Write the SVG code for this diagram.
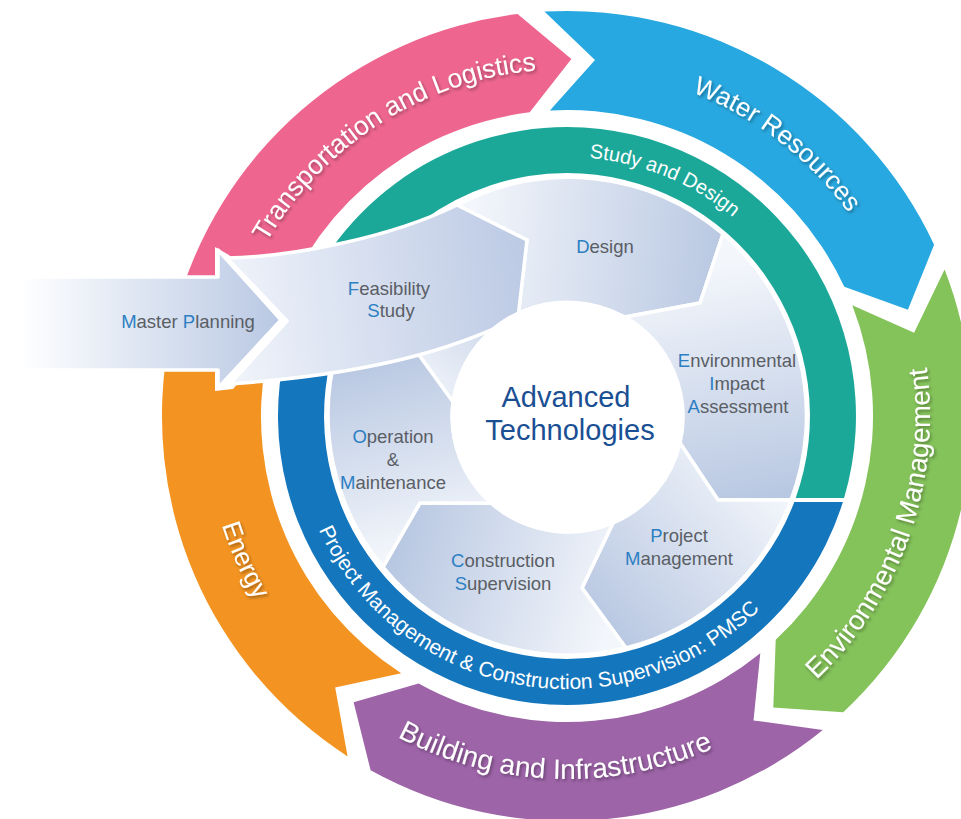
<svg xmlns="http://www.w3.org/2000/svg" width="961" height="819" viewBox="0 0 961 819">
<style>
.rl{font-family:"Liberation Sans",Arial,sans-serif;fill:#fff}
.lbl{font-family:"Liberation Sans",Arial,sans-serif;font-size:18.5px;fill:#5a5e65;text-anchor:middle}
.ini{fill:#2c7fc3}
.ctr{font-family:"Liberation Sans",Arial,sans-serif;font-size:29px;fill:#1b4f94;text-anchor:middle}
.pc{stroke:#fff;stroke-width:3.5;stroke-linejoin:round}
</style>
<defs>
<filter id="sh" x="-10%" y="-10%" width="120%" height="120%"><feDropShadow dx="1.5" dy="2" stdDeviation="1.5" flood-color="#000" flood-opacity="0.35"/></filter>
<linearGradient id="gArrow" gradientUnits="userSpaceOnUse" x1="20" y1="0" x2="281" y2="0"><stop offset="0" stop-color="#ffffff"/><stop offset="0.4" stop-color="#e2e9f4"/><stop offset="1" stop-color="#b9c8e3"/></linearGradient>
<linearGradient id="gBand" gradientUnits="userSpaceOnUse" x1="227" y1="300" x2="527" y2="260"><stop offset="0" stop-color="#eff3fa"/><stop offset="0.55" stop-color="#d3dcee"/><stop offset="1" stop-color="#bccae4"/></linearGradient>
<linearGradient id="gDesign" gradientUnits="userSpaceOnUse" x1="470" y1="240" x2="720" y2="265"><stop offset="0" stop-color="#f3f6fb"/><stop offset="1" stop-color="#b9c8e2"/></linearGradient>
<linearGradient id="gEia" gradientUnits="userSpaceOnUse" x1="700" y1="270" x2="745" y2="500"><stop offset="0" stop-color="#f3f6fb"/><stop offset="1" stop-color="#b9c8e2"/></linearGradient>
<linearGradient id="gPm" gradientUnits="userSpaceOnUse" x1="765" y1="470" x2="600" y2="620"><stop offset="0" stop-color="#f3f6fb"/><stop offset="1" stop-color="#b9c8e2"/></linearGradient>
<linearGradient id="gCon" gradientUnits="userSpaceOnUse" x1="615" y1="600" x2="400" y2="540"><stop offset="0" stop-color="#f3f6fb"/><stop offset="1" stop-color="#b9c8e2"/></linearGradient>
<linearGradient id="gOm" gradientUnits="userSpaceOnUse" x1="430" y1="545" x2="380" y2="360"><stop offset="0" stop-color="#f3f6fb"/><stop offset="1" stop-color="#b9c8e2"/></linearGradient>
<linearGradient id="gFeas" gradientUnits="userSpaceOnUse" x1="400" y1="380" x2="520" y2="260"><stop offset="0" stop-color="#f3f6fb"/><stop offset="1" stop-color="#b9c8e2"/></linearGradient>
<path id="cw347" d="M220,416 A347,347 0 1 1 914,416 A347,347 0 1 1 220,416"/>
<path id="cw259" d="M308,416 A259,259 0 1 1 826,416 A259,259 0 1 1 308,416"/>
<path id="ccw363" d="M204,416 A363,363 0 1 0 930,416 A363,363 0 1 0 204,416"/>
<path id="ccw362" d="M205,416 A362,362 0 1 0 929,416 A362,362 0 1 0 205,416"/>
<path id="ccw273" d="M294,416 A273,273 0 1 0 840,416 A273,273 0 1 0 294,416"/>
</defs>

<g id="transportation">
<path fill="#ee6690" d="M175.4,312.5 A405,405 0 0 1 517.6,14.0 L571.4,59.0 L529.7,112.3 A306,306 0 0 0 271.2,337.8 L237.2,279.4 Z"/>
<text class="rl" font-size="26.5" text-anchor="middle" filter="url(#sh)"><textPath href="#cw347" startOffset="348">Transportation and Logistics</textPath></text>
</g>
<g id="water">
<path fill="#28a8e0" d="M544.4,11.6 A405,405 0 0 1 934.1,244.8 L907.9,309.8 L844.3,286.7 A306,306 0 0 0 549.9,110.5 L595.0,60.1 Z"/>
<text class="rl" font-size="26" text-anchor="middle" filter="url(#sh)"><textPath href="#cw347" startOffset="773">Water Resources</textPath></text>
</g>
<g id="environment">
<path fill="#84c25a" d="M944.6,269.5 A405,405 0 0 1 843.2,712.2 L773.3,707.4 L775.7,639.8 A306,306 0 0 0 852.3,305.3 L914.1,332.7 Z"/>
<text class="rl" font-size="27.5" text-anchor="middle" filter="url(#sh)"><textPath href="#ccw363" startOffset="1017">Environmental Management</textPath></text>
</g>
<g id="building">
<path fill="#9d64a8" d="M822.8,730.0 A405,405 0 0 1 370.6,770.2 L353.6,702.2 L418.6,683.6 A306,306 0 0 0 760.3,653.2 L753.5,720.4 Z"/>
<text class="rl" font-size="28" text-anchor="middle" filter="url(#sh)"><textPath href="#ccw363" startOffset="557">Building and Infrastructure</textPath></text>
</g>
<g id="energy">
<path fill="#f39422" d="M347.6,756.4 A405,405 0 0 1 169.4,338.7 L228.9,301.5 L266.6,357.6 A306,306 0 0 0 401.2,673.2 L335.2,687.5 Z"/>
<text class="rl" font-size="26" text-anchor="middle" filter="url(#sh)"><textPath href="#ccw362" startOffset="152">Energy</textPath></text>
</g>

<g id="study-design">
<path fill="#1ca898" d="M290.6,331.5 A289,289 0 0 1 567,127 A289,289 0 0 1 844.1,498 L795.7,498 A243,243 0 0 0 567,173 A243,243 0 0 0 334.6,345.0 Z"/>
<text class="rl" font-size="20" text-anchor="middle"><textPath href="#cw259" startOffset="508">Study and Design</textPath></text>
</g>
<g id="pmsc">
<path fill="#1476bd" d="M842.9,502 L794.3,502 A243,243 0 0 1 567,659 A243,243 0 0 1 338.7,332.9 L295.4,317.2 A289,289 0 0 0 567,705 A289,289 0 0 0 842.9,502 Z"/>
<text class="rl" font-size="21" text-anchor="middle"><textPath href="#ccw273" startOffset="380">Project Management &amp; Construction Supervision: PMSC</textPath></text>
</g>

<g id="feasibility-sector">
<path class="pc" fill="url(#gFeas)" d="M337,350 A239,239 0 0 1 457,205 L527,240 L518,316 A115,115 0 0 0 453,402 L411,344 Z"/>
</g>
<g id="design">
<path class="pc" fill="url(#gDesign)" d="M457,205 A239,239 0 0 1 723,234 L700,303 L625,317 A115,115 0 0 0 518,316 L527,240 Z"/>
<text class="lbl" x="605" y="253"><tspan class="ini">D</tspan>esign</text>
</g>
<g id="eia">
<path class="pc" fill="url(#gEia)" d="M723,234 A239,239 0 0 1 791,500 L718,500 L680,443 A115,115 0 0 0 625,317 L700,303 Z"/>
<text class="lbl" x="737" y="367"><tspan class="ini">E</tspan>nvironmental</text>
<text class="lbl" x="737" y="390"><tspan class="ini">I</tspan>mpact</text>
<text class="lbl" x="738" y="413"><tspan class="ini">A</tspan>ssessment</text>
</g>
<g id="project-management">
<path class="pc" fill="url(#gPm)" d="M791,500 A239,239 0 0 1 626,648 L582,588 L613,523 A115,115 0 0 0 680,443 L718,500 Z"/>
<text class="lbl" x="679" y="542"><tspan class="ini">P</tspan>roject</text>
<text class="lbl" x="679" y="565"><tspan class="ini">M</tspan>anagement</text>
</g>
<g id="construction-supervision">
<path class="pc" fill="url(#gCon)" d="M626,648 A239,239 0 0 1 383,567 L420,503 L492,503 A115,115 0 0 0 613,523 L582,588 Z"/>
<text class="lbl" x="503" y="567"><tspan class="ini">C</tspan>onstruction</text>
<text class="lbl" x="503" y="590"><tspan class="ini">S</tspan>upervision</text>
</g>
<g id="operation-maintenance">
<path class="pc" fill="url(#gOm)" d="M383,567 A239,239 0 0 1 337,350 L411,344 L453,402 A115,115 0 0 0 492,503 L420,503 Z"/>
<text class="lbl" x="393" y="443"><tspan class="ini">O</tspan>peration</text>
<text class="lbl" x="393" y="466">&amp;</text>
<text class="lbl" x="393" y="489"><tspan class="ini">M</tspan>aintenance</text>
</g>

<path fill="#fff" d="M215,247 L229,255 L292,321 L233,389 L215,391 Z"/>

<g id="feasibility-study">
<path class="pc" fill="url(#gBand)" d="M227,258 C290,257 390,238 457,205 L527,240 L518,318 C470,340 400,372 230,384 L287,321 Z"/>
<text class="lbl" x="389" y="295"><tspan class="ini">F</tspan>easibility</text>
<text class="lbl" x="391" y="317"><tspan class="ini">S</tspan>tudy</text>
</g>

<g id="advanced-technologies">
<circle cx="567" cy="417" r="115" fill="#fff" stroke="#fff" stroke-width="3"/>
<text class="ctr" x="566" y="407">Advanced</text>
<text class="ctr" x="570" y="440">Technologies</text>
</g>

<g id="master-planning">
<path class="pc" fill="url(#gArrow)" d="M20,277 L218,277 L218,250 L281,320 L218,388 L218,370 L20,370 Z"/>
<text class="lbl" x="188" y="328"><tspan class="ini">M</tspan>aster <tspan class="ini">P</tspan>lanning</text>
</g>
</svg>
